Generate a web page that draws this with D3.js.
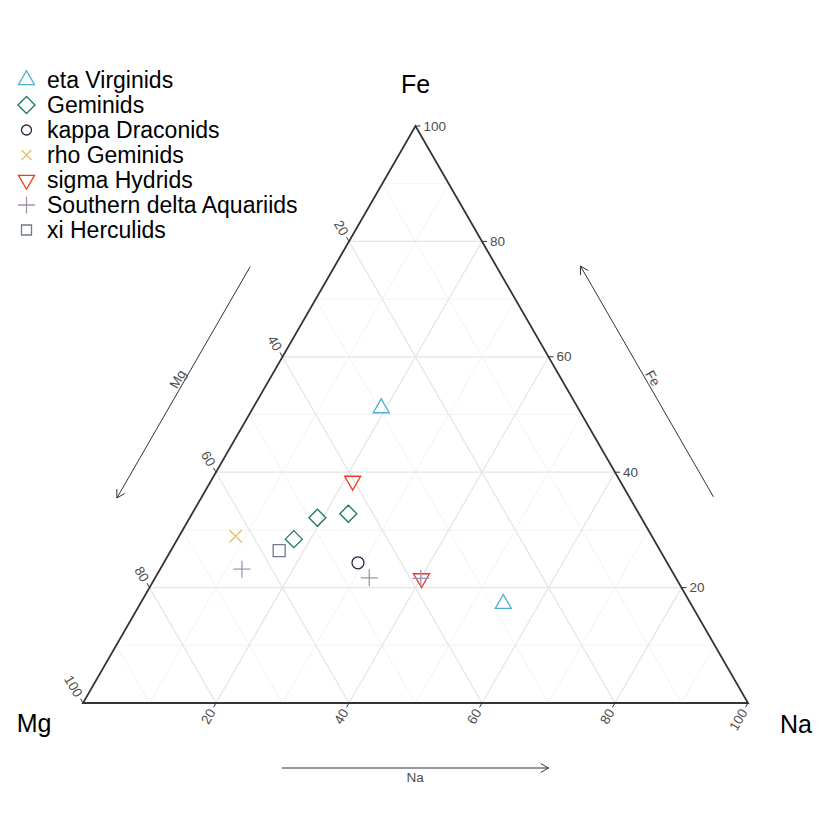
<!DOCTYPE html>
<html><head><meta charset="utf-8">
<script src="https://cdn.jsdelivr.net/npm/d3@7"></script>
<style>body{margin:0;background:#fff;font-family:"Liberation Sans",Arial,sans-serif;}</style>
</head><body>
<svg id="chart" width="830" height="830"></svg>
<script>
// ---- data ----
const seriesNames = ["eta Virginids","Geminids","kappa Draconids","rho Geminids","sigma Hydrids","Southern delta Aquariids","xi Herculids"];
const seriesColors = ["#4aafcd","#177a5c","#2c2141","#e8bd6a","#f2381e","#a491b0","#6e7c8d"];
const seriesShapes = ["triangle","diamond","circle","times","triangleDown","plus","square"];
const pointSeries = ["eta Virginids","eta Virginids","Geminids","Geminids","Geminids","kappa Draconids","rho Geminids","sigma Hydrids","sigma Hydrids","Southern delta Aquariids","Southern delta Aquariids","Southern delta Aquariids","xi Herculids"];
const feValues = [51.1, 17.2, 32.8, 32.1, 28.4, 24.3, 28.9, 38.5, 21.6, 23.2, 21.7, 21.6, 26.4];
const naValues = [19.3, 54.6, 23.5, 19.2, 17.5, 29.2,  8.5, 21.3, 40.1, 12.3, 32.2, 40.0, 16.3];
const mgValues = feValues.map((f,i)=> 100 - f - naValues[i]);
const tickValues = [20,40,60,80,100];
const gridValues = [10,20,30,40,50,60,70,80,90];
const vertexLabels = ["Mg","Na","Fe"];

// ---- scales ----
const svg = d3.select("#chart");
const x = d3.scaleLinear().domain([0,100]).range([83,748]);
const y = d3.scaleLinear().domain([0,100]).range([703,126]);
const P = (mg,na,fe) => [x(na + fe/2), y(fe)];

const g = svg.append("g");

// grid
gridValues.forEach(v=>{
  const major = v % 20 === 0;
  const segs = [
    [P(100-v,0,v), P(0,100-v,v)],   // Fe const
    [P(100-v,v,0), P(0,v,100-v)],   // Na const
    [P(v,100-v,0), P(v,0,100-v)]    // Mg const
  ];
  segs.forEach(s=>{
    g.append("line").attr("x1",s[0][0]).attr("y1",s[0][1]).attr("x2",s[1][0]).attr("y2",s[1][1])
     .attr("stroke", major ? "#e4e4e4" : "#efefef").attr("stroke-width", major ? 1.2 : 0.8);
  });
});

// border
const tri = [P(100,0,0),P(0,100,0),P(0,0,100)];
g.append("path").attr("d","M"+tri.map(p=>p.join(",")).join("L")+"Z")
 .attr("fill","none").attr("stroke","#333").attr("stroke-width",1.8).attr("stroke-linejoin","miter");

// ticks and labels
const s3 = Math.sqrt(3)/2;
const tickLen = 5, labOff = 8, tickFont = 13.5;
tickValues.forEach(v=>{
  // Fe on right edge
  let p = P(0,100-v,v);
  g.append("line").attr("x1",p[0]).attr("y1",p[1]).attr("x2",p[0]+tickLen).attr("y2",p[1]).attr("stroke","#333");
  g.append("text").attr("x",p[0]+labOff).attr("y",p[1]).attr("dominant-baseline","central")
   .attr("font-size",tickFont).attr("fill","#4d4d4d").text(v);
  // Na on bottom edge
  p = P(100-v,v,0);
  let d = [-0.5, s3];
  g.append("line").attr("x1",p[0]).attr("y1",p[1]).attr("x2",p[0]+d[0]*tickLen).attr("y2",p[1]+d[1]*tickLen).attr("stroke","#333");
  let lx = p[0]+d[0]*labOff, ly = p[1]+d[1]*labOff;
  g.append("text").attr("transform",`translate(${lx},${ly}) rotate(-60)`).attr("text-anchor","end")
   .attr("dominant-baseline","central").attr("font-size",tickFont).attr("fill","#4d4d4d").text(v);
  // Mg on left edge
  p = P(v,0,100-v);
  d = [-0.5, -s3];
  g.append("line").attr("x1",p[0]).attr("y1",p[1]).attr("x2",p[0]+d[0]*tickLen).attr("y2",p[1]+d[1]*tickLen).attr("stroke","#333");
  lx = p[0]+d[0]*labOff; ly = p[1]+d[1]*labOff;
  g.append("text").attr("transform",`translate(${lx},${ly}) rotate(60)`).attr("text-anchor","end")
   .attr("dominant-baseline","central").attr("font-size",tickFont).attr("fill","#4d4d4d").text(v);
});

// axis arrows
function arrow(a, b, label, lblTransform){
  const dx=b[0]-a[0], dy=b[1]-a[1], L=Math.hypot(dx,dy), ux=dx/L, uy=dy/L;
  const h=9, ang=Math.PI/6;
  const rot=(t)=>[ux*Math.cos(t)-uy*Math.sin(t), ux*Math.sin(t)+uy*Math.cos(t)];
  const r1=rot(ang), r2=rot(-ang);
  g.append("path").attr("d",`M${a[0]},${a[1]}L${b[0]},${b[1]}M${b[0]-r1[0]*h},${b[1]-r1[1]*h}L${b[0]},${b[1]}L${b[0]-r2[0]*h},${b[1]-r2[1]*h}`)
   .attr("fill","none").attr("stroke","#333").attr("stroke-width",1);
  g.append("text").attr("transform",lblTransform).attr("text-anchor","middle")
   .attr("font-size",13.5).attr("fill","#4d4d4d").text(label);
}
{
  const off = 73, n = [-s3,-0.5];
  const a0 = P(30.7,0,69.3), b0 = P(70.8,0,29.2);
  const a=[a0[0]+n[0]*off,a0[1]+n[1]*off], b=[b0[0]+n[0]*off,b0[1]+n[1]*off];
  const m=[(a[0]+b[0])/2,(a[1]+b[1])/2];
  arrow(a,b,"Mg",`translate(${m[0]+n[0]*2},${m[1]+n[1]*2}) rotate(-60)`);
}
{
  const off = 73, n = [s3,-0.5];
  const a0 = P(0,70.6,29.4), b0 = P(0,30.6,69.4);
  const a=[a0[0]+n[0]*off,a0[1]+n[1]*off], b=[b0[0]+n[0]*off,b0[1]+n[1]*off];
  const m=[(a[0]+b[0])/2,(a[1]+b[1])/2];
  arrow(a,b,"Fe",`translate(${m[0]+n[0]*2},${m[1]+n[1]*2}) rotate(60)`);
}
{
  const off = 65;
  const a0 = P(70.1,29.9,0), b0 = P(30,70,0);
  const a=[a0[0],a0[1]+off], b=[b0[0],b0[1]+off];
  const m=[(a[0]+b[0])/2,(a[1]+b[1])/2];
  arrow(a,b,"Na",`translate(${m[0]},${m[1]+13.5})`);
}

// vertex labels
const vp = [P(100,0,0),P(0,100,0),P(0,0,100)];
g.append("text").attr("x",vp[0][0]-49).attr("y",vp[0][1]+29).attr("text-anchor","middle").attr("font-size",25).attr("fill","#000").text(vertexLabels[0]);
g.append("text").attr("x",vp[1][0]+48).attr("y",vp[1][1]+30).attr("text-anchor","middle").attr("font-size",25).attr("fill","#000").text(vertexLabels[1]);
g.append("text").attr("x",vp[2][0]).attr("y",vp[2][1]-33).attr("text-anchor","middle").attr("font-size",25).attr("fill","#000").text(vertexLabels[2]);

// symbols
function symbolPath(shape, s){
  switch(shape){
    case "triangle": { const h=s*Math.sqrt(3)/2; return `M0,${-2*h/3}L${s/2},${h/3}L${-s/2},${h/3}Z`; }
    case "triangleDown": { const h=s*Math.sqrt(3)/2; return `M0,${2*h/3}L${s/2},${-h/3}L${-s/2},${-h/3}Z`; }
    case "diamond": { const r=s/2; return `M0,${-r}L${r},0L0,${r}L${-r},0Z`; }
    case "square": { const r=s/2; return `M${-r},${-r}H${r}V${r}H${-r}Z`; }
    case "circle": { const r=s/2; return `M${r},0A${r},${r} 0 1,1 ${-r},0A${r},${r} 0 1,1 ${r},0Z`; }
    case "plus": { const r=s/2; return `M${-r},0H${r}M0,${-r}V${r}`; }
    case "times": { const r=s/2; return `M${-r},${-r}L${r},${r}M${-r},${r}L${r},${-r}`; }
  }
}
const plotSize = {triangle:16, triangleDown:16, diamond:17, square:12, circle:12, plus:17, times:12.5};
const legendSize = {triangle:16, triangleDown:16, diamond:17, square:10, circle:10, plus:17, times:10};
const color = d3.scaleOrdinal().domain(seriesNames).range(seriesColors);
const shape = d3.scaleOrdinal().domain(seriesNames).range(seriesShapes);

pointSeries.forEach((sName,i)=>{
  const p = P(mgValues[i], naValues[i], feValues[i]);
  g.append("path").attr("transform",`translate(${p[0]},${p[1]})`)
   .attr("d",symbolPath(shape(sName), plotSize[shape(sName)]))
   .attr("fill","none").attr("stroke",color(sName)).attr("stroke-width",1.3);
});

// legend
const lg = svg.append("g").attr("transform","translate(26.5,80)");
seriesNames.forEach((sName,i)=>{
  const row = lg.append("g").attr("transform",`translate(0,${i*25})`);
  row.append("path").attr("d",symbolPath(shape(sName), legendSize[shape(sName)]))
   .attr("fill","none").attr("stroke",color(sName)).attr("stroke-width",1.3);
  row.append("text").attr("x",20.5).attr("y",8.3).attr("font-size",23).attr("fill","#000").text(sName);
});
</script>
</body></html>
